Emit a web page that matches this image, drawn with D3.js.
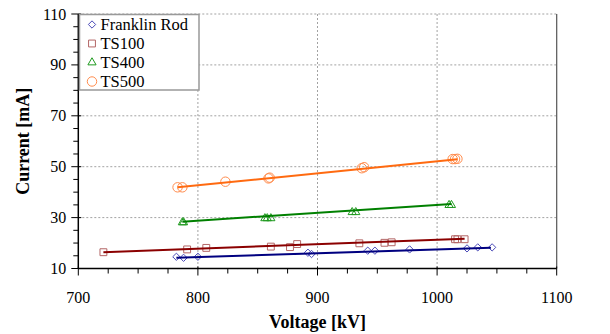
<!DOCTYPE html>
<html>
<head>
<meta charset="utf-8">
<script src="https://cdn.jsdelivr.net/npm/d3@7"></script>
<style>
  body { margin: 0; font-family: 'Times New Roman', Times, 'Liberation Serif', serif; }
  svg text { font-family: 'Times New Roman', Times, 'Liberation Serif', serif; }
  #warm { position: absolute; left: 0; top: 0; color: #fff; font-size: 16px; z-index: -1; }
</style>
</head>
<body>
<div id="warm">Franklin Rod TS100 TS400 TS500 700 800 900 1000 1100 <b>Voltage [kV] Current [mA]</b></div>
<script>
// ─── Data (voltage kV, current mA) ────────────────────────────────────────────
const franklinV = [782, 788, 800, 892, 895, 942, 948, 977, 1025, 1034, 1046]
const franklinI = [14.6, 14.2, 14.6, 16.2, 15.7, 17.0, 17.0, 17.5, 17.9, 18.3, 18.3]
const ts100V = [721, 791, 807, 861, 877, 883, 935, 956, 962, 1015, 1017, 1023]
const ts100I = [16.4, 17.5, 18.1, 18.6, 18.4, 19.6, 19.9, 20.1, 20.3, 21.5, 21.5, 21.5]
const ts400V = [787, 788, 856, 858, 861, 929, 932, 1010, 1012]
const ts400I = [28.5, 28.5, 30.1, 30.1, 30.1, 32.5, 32.5, 35.3, 35.3]
const ts500V = [783, 787, 823, 859, 860, 937, 939, 1013, 1015, 1017]
const ts500I = [41.9, 41.9, 44.1, 45.4, 45.7, 49.4, 49.8, 53.0, 53.0, 53.1]

// linear trend lines, end points
const franklinTrend = [[782, 14.2], [1045, 18.2]]
const ts100Trend = [[721, 16.4], [1023, 21.7]]
const ts400Trend = [[787, 28.4], [1012, 35.3]]
const ts500Trend = [[783, 41.9], [1017, 52.9]]

const xTicks = [700, 800, 900, 1000, 1100]
const yTicks = [10, 30, 50, 70, 90, 110]

const series = [
  { name: 'Franklin Rod', v: franklinV, i: franklinI, trend: franklinTrend, shape: 'diamond', mark: '#4b4bb8', line: '#000080' },
  { name: 'TS100', v: ts100V, i: ts100I, trend: ts100Trend, shape: 'square', mark: '#b36666', line: '#8b0000' },
  { name: 'TS400', v: ts400V, i: ts400I, trend: ts400Trend, shape: 'triangle', mark: '#1f9a1f', line: '#008000' },
  { name: 'TS500', v: ts500V, i: ts500I, trend: ts500Trend, shape: 'circle', mark: '#ff8c4d', line: '#ff6a10' },
]

const FONT = "'Times New Roman', Times, 'Liberation Serif', serif"

// ─── Layout ──────────────────────────────────────────────────────────────────
const W = 610, H = 334
const pL = 78.3, pR = 556.7, pT = 14, pB = 268.5

const svg = d3.select('body').append('svg')
  .attr('width', W).attr('height', H)
  .style('position', 'absolute').style('left', 0).style('top', 0)
  .style('background', '#fff')

const x = d3.scaleLinear().domain([700, 1100]).range([pL, pR])
const y = d3.scaleLinear().domain([10, 110]).range([pB, pT])

// ── Tick labels, titles ──────────────────────────────────────────────────────
svg.selectAll('text.xl')
  .data(xTicks)
  .join('text')
  .attr('class', 'xl')
  .attr('x', d => x(d)).attr('y', pB + 34)
  .attr('text-anchor', 'middle')
  .attr('font-size', 16)
  .text(d => d)

svg.selectAll('text.yl')
  .data(yTicks)
  .join('text')
  .attr('class', 'yl')
  .attr('x', pL - 12).attr('y', d => y(d) + 5.5)
  .attr('text-anchor', 'end')
  .attr('font-size', 16)
  .text(d => d)

svg.append('text')
  .attr('x', (pL + pR) / 2).attr('y', 328)
  .attr('text-anchor', 'middle')
  .attr('font-size', 18).attr('font-weight', 'bold')
  .text('Voltage [kV]')

svg.append('text')
  .attr('transform', `translate(29,${(pT + pB) / 2}) rotate(-90)`)
  .attr('text-anchor', 'middle')
  .attr('font-size', 18).attr('font-weight', 'bold')
  .text('Current [mA]')

// ── Grid ─────────────────────────────────────────────────────────────────────
svg.selectAll('line.gx')
  .data(xTicks.slice(1, -1))
  .join('line')
  .attr('class', 'gx')
  .attr('x1', d => x(d)).attr('x2', d => x(d))
  .attr('y1', pT).attr('y2', pB)
  .attr('stroke', '#8a8a8a').attr('stroke-width', 0.8)
  .attr('stroke-dasharray', '2,2')
svg.selectAll('line.gy')
  .data(yTicks.slice(1))
  .join('line')
  .attr('class', 'gy')
  .attr('x1', pL).attr('x2', pR)
  .attr('y1', d => y(d)).attr('y2', d => y(d))
  .attr('stroke', '#8a8a8a').attr('stroke-width', 0.8)
  .attr('stroke-dasharray', '2,2')
// right frame
svg.append('line')
  .attr('x1', pR).attr('x2', pR).attr('y1', pT).attr('y2', pB)
  .attr('stroke', '#555').attr('stroke-width', 1.2)

// ── Axes (ticks from the scales) ─────────────────────────────────────────────
svg.selectAll('line.xt')
  .data(d3.range(700, 1101, 25))
  .join('line')
  .attr('class', 'xt')
  .attr('x1', d => x(d)).attr('x2', d => x(d))
  .attr('y1', d => pB + (d % 100 === 0 ? -2 : 0))
  .attr('y2', d => pB + (d % 100 === 0 ? 7 : 5))
  .attr('stroke', '#000')

svg.selectAll('line.yt')
  .data(d3.range(10, 111, 5))
  .join('line')
  .attr('class', 'yt')
  .attr('y1', d => y(d)).attr('y2', d => y(d))
  .attr('x1', d => pL + ((d - 10) % 20 === 0 ? 3 : 0))
  .attr('x2', d => pL - ((d - 10) % 20 === 0 ? 7 : 5))
  .attr('stroke', '#000')

svg.append('line')
  .attr('x1', pL).attr('x2', pR).attr('y1', pB).attr('y2', pB)
  .attr('stroke', '#000').attr('stroke-width', 1.5)
svg.append('line')
  .attr('x1', pL).attr('x2', pL).attr('y1', pT).attr('y2', pB)
  .attr('stroke', '#000').attr('stroke-width', 1.5)

// ── Markers ──────────────────────────────────────────────────────────────────
const shapes = {
  diamond: d3.symbol().type(d3.symbolDiamond2).size(34),
  square: d3.symbol().type(d3.symbolSquare2).size(60),
  triangle: d3.symbol().type(d3.symbolTriangle2).size(48),
  circle: d3.symbol().type(d3.symbolCircle).size(70),
}

const trendLine = d3.line().x(d => x(d[0])).y(d => y(d[1]))

series.forEach(s => {
  const g = svg.append('g')
  g.selectAll('path.pt')
    .data(s.v.map((v, k) => [v, s.i[k]]))
    .join('path')
    .attr('transform', d => `translate(${x(d[0])},${y(d[1]) + (s.shape === 'triangle' ? 1 : 0)})`)
    .attr('d', shapes[s.shape]())
    .attr('fill', 'none')
    .attr('stroke', s.mark)
    .attr('stroke-width', 1)
  g.append('path')
    .attr('d', trendLine(s.trend))
    .attr('fill', 'none')
    .attr('stroke', s.line)
    .attr('stroke-width', 2)
})

// ── Legend ───────────────────────────────────────────────────────────────────
const legend = svg.append('g')
legend.append('rect')
  .attr('x', 79.5).attr('y', 14.5).attr('width', 119.5).attr('height', 75.5)
  .attr('fill', '#fff').attr('stroke', '#999').attr('stroke-width', 1.5)

series.forEach((s, k) => {
  const cy = 24.5 + k * 19
  legend.append('path')
    .attr('transform', `translate(92,${cy})`)
    .attr('d', shapes[s.shape]())
    .attr('fill', 'none')
    .attr('stroke', s.mark)
    .attr('stroke-width', 1)
  legend.append('text')
    .attr('x', 100.5).attr('y', cy + 5.5)
    .attr('font-size', 16.5)
    .text(s.name)
})

// re-apply the serif face once fonts are settled, forcing a fresh layout
const refont = () => svg.selectAll('text').style('font-family', FONT)
refont()
if (document.fonts) document.fonts.ready.then(refont)
requestAnimationFrame(refont)
setTimeout(refont, 30)
</script>
</body>
</html>
